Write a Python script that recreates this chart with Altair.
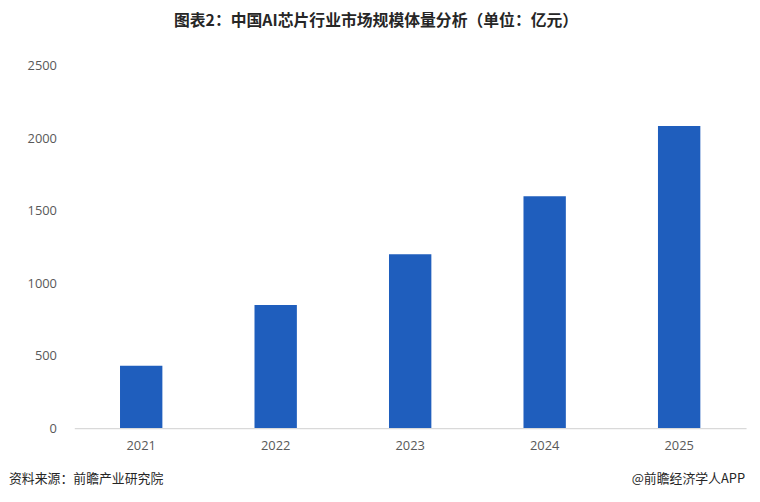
import altair as alt
import pandas as pd

years = ["2021", "2022", "2023", "2024", "2025"]
values = [430, 850, 1200, 1600, 2085]
title_text = "图表2：中国AI芯片行业市场规模体量分析（单位：亿元）"
source_text = "资料来源：前瞻产业研究院"
credit_text = "@前瞻经济学人APP"

df = pd.DataFrame({"year": years, "value": values})

W, H = 679, 366
PAD_L, PAD_T = 67, 56

bars = alt.Chart(df).mark_bar(color="#1F5EBD").encode(
    x=alt.X("year:N", title=None, sort=years,
            scale=alt.Scale(paddingInner=0.685, paddingOuter=0.34),
            axis=alt.Axis(labelAngle=0, labelFontSize=13, labelColor="#595959",
                          labelFont="Open Sans", labelPadding=12, ticks=False,
                          domainColor="#d9d9d9", domainWidth=1.2, grid=False)),
    y=alt.Y("value:Q", title=None,
            scale=alt.Scale(domain=[0, 2500], nice=False),
            axis=alt.Axis(values=[0, 500, 1000, 1500, 2000, 2500], format="d",
                          labelFontSize=13, labelColor="#595959", labelFont="Open Sans",
                          labelPadding=18, ticks=False, domain=False, grid=False)),
)

title = alt.Chart(pd.DataFrame({"t": [title_text]})).mark_text(
    fontSize=16, fontWeight="bold", font="Noto Sans CJK SC",
    color="#262626", align="center", baseline="middle").encode(
    text="t:N", x=alt.value(380 - 8 - PAD_L), y=alt.value(19 - 8 - PAD_T))

src = alt.Chart(pd.DataFrame({"t": [source_text]})).mark_text(
    fontSize=13, font="Noto Sans CJK SC", color="#262626", align="left", baseline="middle").encode(
    text="t:N", x=alt.value(9 - 8 - PAD_L), y=alt.value(481 - 8 - PAD_T))

cred = alt.Chart(pd.DataFrame({"t": [credit_text]})).mark_text(
    fontSize=13, font="Noto Sans CJK SC", color="#262626", align="right", baseline="middle").encode(
    text="t:N", x=alt.value(753 - 8 - PAD_L), y=alt.value(481 - 8 - PAD_T))

chart = alt.layer(bars, title, src, cred).properties(
    width=W, height=H,
    background="white",
    autosize=alt.AutoSizeParams(type="none"),
    padding={"left": PAD_L, "top": PAD_T, "right": 6, "bottom": 62},
).configure_view(strokeWidth=0, stroke=None)

chart.save("out.html", embed_options={"renderer": "svg", "actions": False})
